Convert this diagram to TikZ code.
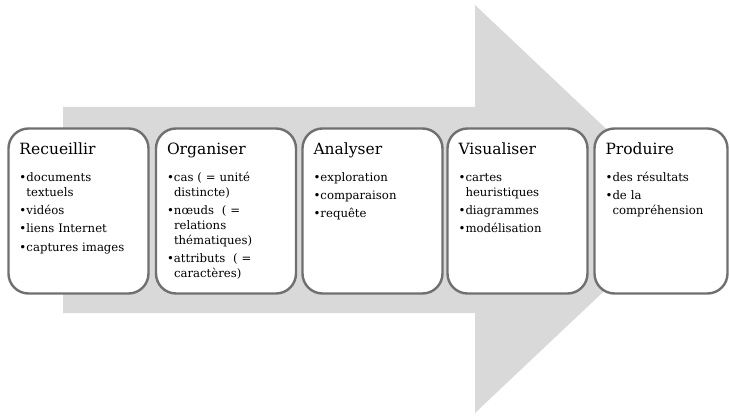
\documentclass[tikz,border=0pt]{standalone}
\usepackage{fontspec}
\setmainfont{DejaVu Serif}
\definecolor{arrowgray}{RGB}{217,217,217}
\definecolor{boxborder}{RGB}{112,112,112}
\newcommand\itm[1]{\noindent\hangindent=7pt\hangafter=1\makebox[7pt][l]{\textbullet}#1\par\vspace{3.3pt}}
\tikzset{
  stagebox/.style={draw=boxborder, line width=2.4pt, fill=white, rounded corners=20pt,
    minimum width=140pt, minimum height=165pt, inner sep=0pt},
  titletext/.style={anchor=base west, inner sep=0pt, font=\fontsize{15.5}{18}\selectfont},
  itemtext/.style={anchor=base west, inner sep=0pt, text width=130pt, align=left,
    font=\fontsize{11.7}{15}\selectfont}
}
\begin{document}
\begin{tikzpicture}[x=1pt,y=-1pt]
\useasboundingbox (0,0) rectangle (729,417);
% big gray arrow
\fill[arrowgray] (63,107) -- (475,107) -- (475,5) -- (691,209) -- (475,413) -- (475,313) -- (63,313) -- cycle;
% boxes
\node[stagebox] (b1) at (78.5,211) {};
\node[stagebox] (b2) at (226,211) {};
\node[stagebox] (b3) at (372.5,211) {};
\node[stagebox] (b4) at (517.5,211) {};
\node[stagebox, minimum width=133pt] (b5) at (661,211) {};
% titles
\node[titletext] (t1) at ([xshift=12pt,yshift=-27pt]b1.north west) {Recueillir};
\node[titletext] (t2) at ([xshift=12pt,yshift=-27pt]b2.north west) {Organiser};
\node[titletext] (t3) at ([xshift=12pt,yshift=-27pt]b3.north west) {Analyser};
\node[titletext] (t4) at ([xshift=12pt,yshift=-27pt]b4.north west) {Visualiser};
\node[titletext] (t5) at ([xshift=12pt,yshift=-27pt]b5.north west) {Produire};
% items
\node[itemtext] (i1) at ([xshift=12pt,yshift=-54pt]b1.north west) {%
\itm{documents\newline textuels}\itm{vidéos}\itm{liens Internet}\itm{captures images}};
\node[itemtext] (i2) at ([xshift=12pt,yshift=-54pt]b2.north west) {%
\itm{cas ( = unité\newline distincte)}\itm{nœuds ~( =\newline relations\newline thématiques)}\itm{attributs ~( =\newline caractères)}};
\node[itemtext] (i3) at ([xshift=12pt,yshift=-54pt]b3.north west) {%
\itm{exploration}\itm{comparaison}\itm{requête}};
\node[itemtext] (i4) at ([xshift=12pt,yshift=-54pt]b4.north west) {%
\itm{cartes\newline heuristiques}\itm{diagrammes}\itm{modélisation}};
\node[itemtext] (i5) at ([xshift=12pt,yshift=-54pt]b5.north west) {%
\itm{des résultats}\itm{de la\newline compréhension}};
\end{tikzpicture}
\end{document}
